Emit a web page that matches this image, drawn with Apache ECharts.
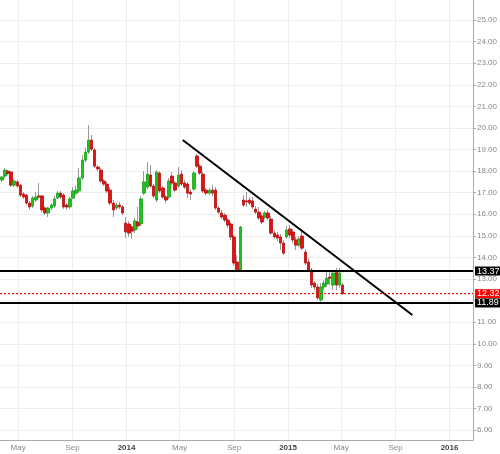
<!DOCTYPE html>
<html>
<head>
<meta charset="utf-8">
<script src="https://cdn.jsdelivr.net/npm/echarts@6/dist/echarts.min.js"></script>
<style>
  html, body { margin: 0; padding: 0; background: #fff; }
  #chart { width: 500px; height: 454px; }
</style>
</head>
<body>
<div id="chart"></div>
<script>
// weekly candles, dated on the Monday of each week
const weeks = [
  '2013-03-25','2013-04-01','2013-04-08','2013-04-15','2013-04-22','2013-04-29','2013-05-06','2013-05-13','2013-05-20','2013-05-27',
  '2013-06-03','2013-06-10','2013-06-17','2013-06-24','2013-07-01','2013-07-08','2013-07-15','2013-07-22','2013-07-29','2013-08-05',
  '2013-08-12','2013-08-19','2013-08-26','2013-09-02','2013-09-09','2013-09-16','2013-09-23','2013-09-30','2013-10-07','2013-10-14',
  '2013-10-21','2013-10-28','2013-11-04','2013-11-11','2013-11-18','2013-11-25','2013-12-02','2013-12-09','2013-12-16','2013-12-23',
  '2013-12-30','2014-01-06','2014-01-13','2014-01-20','2014-01-27','2014-02-03','2014-02-10','2014-02-17','2014-02-24','2014-03-03',
  '2014-03-10','2014-03-17','2014-03-24','2014-03-31','2014-04-07','2014-04-14','2014-04-21','2014-04-28','2014-05-05','2014-05-12',
  '2014-05-19','2014-05-26','2014-06-02','2014-06-09','2014-06-16','2014-06-23','2014-06-30','2014-07-07','2014-07-14','2014-07-21',
  '2014-07-28','2014-08-04','2014-08-11','2014-08-18','2014-08-25','2014-09-01','2014-09-08','2014-09-15','2014-09-22','2014-09-29',
  '2014-10-06','2014-10-13','2014-10-20','2014-10-27','2014-11-03','2014-11-10','2014-11-17','2014-11-24','2014-12-01','2014-12-08',
  '2014-12-15','2014-12-22','2014-12-29','2015-01-05','2015-01-12','2015-01-19','2015-01-26','2015-02-02','2015-02-09','2015-02-16',
  '2015-02-23','2015-03-02','2015-03-09','2015-03-16','2015-03-23','2015-03-30','2015-04-06','2015-04-13','2015-04-20','2015-04-27',
  '2015-05-04'
];
const open = [
  17.59,17.77,18.00,17.96,17.35,17.50,17.35,16.94,16.89,16.52,
  16.38,16.66,16.85,16.85,16.29,16.06,16.29,16.38,16.75,16.98,
  16.89,16.43,16.34,16.75,16.98,17.08,17.68,18.51,18.88,19.44,
  18.98,18.19,18.05,17.54,17.40,17.12,16.52,16.29,16.43,16.34,
  15.59,15.55,15.41,15.27,15.64,15.55,16.98,17.26,17.82,17.31,
  16.66,17.91,17.22,16.80,16.80,17.77,17.45,17.31,17.86,17.45,
  17.40,17.03,17.17,18.70,18.23,17.86,17.12,16.98,17.12,17.12,
  16.29,16.06,15.96,15.73,15.55,14.95,13.79,13.42,16.66,16.62,
  16.66,16.62,16.24,16.10,15.92,15.87,16.06,15.78,15.13,15.04,
  14.95,14.67,14.95,15.32,15.18,14.81,14.57,14.99,14.25,13.79,
  13.42,12.81,12.63,12.03,12.63,12.77,13.09,12.72,13.32,12.72,
  12.72
];
const close = [
  17.73,18.05,17.89,17.35,17.54,17.31,16.89,16.80,16.52,16.34,
  16.75,16.80,16.80,16.20,16.06,16.29,16.43,16.71,16.98,16.80,
  16.34,16.34,16.71,17.08,17.12,17.68,18.51,18.88,19.44,19.02,
  18.23,18.10,17.54,17.40,17.08,16.52,16.20,16.43,16.34,16.06,
  15.18,15.13,15.22,15.69,15.46,16.71,17.50,17.86,17.31,16.85,
  17.96,17.08,16.80,16.66,17.54,17.45,17.12,17.82,17.40,17.26,
  16.98,16.94,17.91,18.23,17.91,17.08,16.98,17.12,16.98,16.29,
  16.10,15.87,15.73,15.50,14.95,13.74,13.42,15.41,16.43,16.57,
  16.52,16.34,16.10,15.83,15.64,16.06,15.83,15.13,14.95,14.90,
  14.67,14.20,15.27,15.04,14.81,14.57,14.86,14.43,13.74,13.42,
  12.72,12.63,12.12,12.63,12.81,13.04,13.04,13.28,12.72,13.28,
  12.32
];
const low = [
  17.50,17.68,17.82,17.26,17.26,17.22,16.80,16.71,16.43,16.20,
  16.29,16.57,16.71,16.10,15.96,15.87,16.20,16.29,16.71,16.71,
  16.24,16.20,16.24,16.71,16.89,16.98,17.59,18.42,18.79,18.93,
  18.14,18.00,17.45,17.31,16.98,16.43,15.87,16.20,16.24,15.96,
  14.90,14.95,14.86,15.13,15.32,15.46,16.89,17.17,17.22,16.75,
  16.57,16.98,16.71,16.52,16.71,17.35,17.03,17.22,17.31,17.17,
  16.75,16.66,17.08,18.14,17.82,16.98,16.89,16.89,16.85,16.20,
  16.01,15.78,15.64,15.36,14.81,13.60,13.32,13.32,16.34,16.34,
  16.43,16.24,16.01,15.73,15.55,15.78,15.73,15.04,14.86,14.76,
  14.34,14.11,14.86,14.90,14.67,14.34,14.48,14.34,13.65,13.32,
  12.58,12.49,12.03,11.89,12.49,12.63,12.72,12.49,12.49,12.58,
  12.26
];
const high = [
  17.77,18.14,18.05,18.00,17.63,17.59,17.40,17.03,16.94,16.62,
  16.85,17.03,17.45,16.89,16.38,16.34,16.52,16.85,17.08,17.08,
  16.98,16.52,16.80,17.26,17.31,18.14,18.74,19.07,20.13,19.67,
  19.07,18.28,18.14,17.63,17.50,17.26,16.66,16.52,16.57,16.43,
  15.87,15.69,15.50,15.83,16.34,16.85,18.00,18.42,18.28,17.40,
  18.05,18.00,17.31,16.89,17.68,17.96,17.54,18.19,18.05,17.59,
  17.50,17.17,18.00,18.79,18.33,17.96,17.22,17.22,17.35,17.26,
  16.38,16.20,16.06,15.83,15.64,15.04,14.11,15.46,16.89,17.03,
  16.80,16.80,16.38,16.34,16.01,16.15,16.20,15.92,15.27,15.18,
  15.09,14.81,15.46,15.50,15.32,14.95,14.99,15.27,14.39,13.97,
  13.51,12.90,12.77,12.81,12.95,13.32,13.42,13.42,13.51,13.51,
  12.81
];

// drawn levels
const resistance = 13.37;
const support = 11.89;
const lastPrice = 12.32;
const trendDates = ['2014-05-08', '2015-10-09'];
const trendValues = [19.44, 11.33];

// axis ticks
const xStart = '2013-03-21';
const xEnd = '2016-02-23';
const xTickDates = ['2013-05-01','2013-09-01','2014-01-01','2014-05-01','2014-09-01','2015-01-01','2015-05-01','2015-09-01','2016-01-01'];
const xTickLabels = ['May','Sep','2014','May','Sep','2015','May','Sep','2016'];
const yTicks = [6,7,8,9,10,11,12,13,14,15,16,17,18,19,20,21,22,23,24,25];

const toTime = s => new Date(s.replace(/-/g, '/')).getTime();
const xTickTimes = xTickDates.map(toTime);

const chart = echarts.init(document.getElementById('chart'));

const wickData = weeks.map((d, i) => [toTime(d), open[i], close[i], low[i], high[i]]);
const bodyData = weeks.map((d, i) => [toTime(d), open[i], close[i], Math.min(open[i], close[i]), Math.max(open[i], close[i])]);
const trendData = trendDates.map((d, i) => [toTime(d), trendValues[i]]);

// horizontal level across the plot, with its price box on the right axis
function levelSeries(value, color, type, width) {
  const style = { color: color, type: type, width: width };
  return {
    type: 'line',
    data: [[toTime(xStart), value], [toTime(xEnd), value]],
    symbol: 'none',
    z: 6,
    color: color,
    lineStyle: style,
    markLine: {
      symbol: 'none',
      silent: true,
      lineStyle: style,
      label: {
        show: true,
        position: 'end',
        distance: 2,
        formatter: value.toFixed(2),
        color: '#fff',
        backgroundColor: color,
        fontSize: 9,
        lineHeight: 9,
        fontFamily: 'Liberation Sans',
        padding: [0, 2, 0, 2]
      },
      data: [{ yAxis: value }]
    }
  };
}

chart.setOption({
  animation: false,
  grid: { left: 0, right: 26, top: 0, bottom: 14 },
  xAxis: {
    type: 'value',
    min: toTime(xStart),
    max: toTime(xEnd),
    axisLine: { lineStyle: { color: '#aaa' } },
    axisTick: { show: false, customValues: xTickTimes },
    axisLabel: {
      customValues: xTickTimes,
      fontSize: 8,
      fontFamily: 'Liberation Sans',
      color: '#888',
      margin: 4,
      formatter: v => {
        const i = xTickTimes.findIndex(t => Math.abs(t - v) < 86400000);
        if (i < 0) return '';
        const s = xTickLabels[i];
        return /^\d/.test(s) ? '{yr|' + s + '}' : s;
      },
      rich: { yr: { fontSize: 8, fontWeight: 'bold', color: '#444', fontFamily: 'Liberation Sans' } }
    },
    splitLine: { show: true, lineStyle: { color: '#eeeeee' } }
  },
  yAxis: {
    type: 'value',
    position: 'right',
    min: 5.54,
    max: 25.93,
    minInterval: 1,
    maxInterval: 1,
    axisLine: { show: true, lineStyle: { color: '#aaa' } },
    axisTick: { show: true, length: 3, customValues: yTicks, lineStyle: { color: '#aaa' } },
    axisLabel: {
      customValues: yTicks,
      fontSize: 8,
      fontFamily: 'Liberation Sans',
      color: '#888',
      margin: 4,
      formatter: v => v.toFixed(2)
    },
    splitLine: { show: true, lineStyle: { color: '#eeeeee' } }
  },
  series: [
    {
      name: 'wicks',
      type: 'candlestick',
      data: wickData,
      encode: { x: 0, y: [1, 2, 3, 4] },
      barWidth: 1,
      itemStyle: { color: '#9a9a9a', color0: '#9a9a9a', borderColor: '#9a9a9a', borderColor0: '#9a9a9a', borderWidth: 1 }
    },
    {
      name: 'bodies',
      type: 'candlestick',
      data: bodyData,
      encode: { x: 0, y: [1, 2, 3, 4] },
      barWidth: 3,
      itemStyle: { color: '#1fc41f', color0: '#e01414', borderColor: '#14a014', borderColor0: '#b80a0a', borderWidth: 0.8 }
    },
    {
      name: 'trend',
      type: 'line',
      data: trendData,
      symbol: 'none',
      z: 5,
      lineStyle: { color: '#000', width: 2 }
    },
    levelSeries(resistance, '#000000', 'solid', 2),
    levelSeries(lastPrice, '#ff0000', [2, 2], 1),
    levelSeries(support, '#000000', 'solid', 2)
  ]
});
</script>
</body>
</html>
